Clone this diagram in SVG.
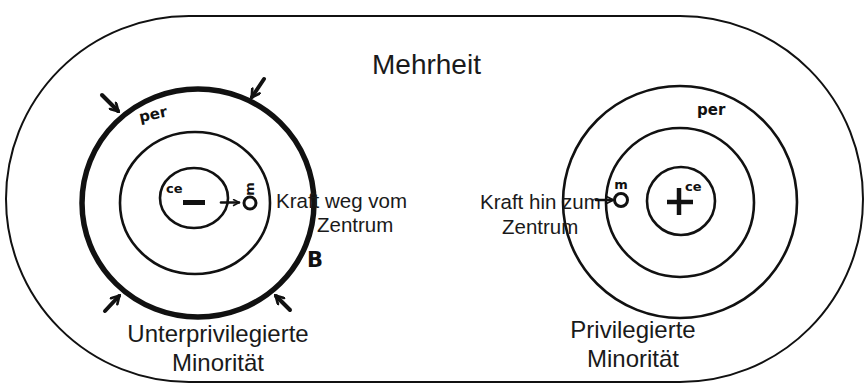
<svg xmlns="http://www.w3.org/2000/svg" width="865" height="385" viewBox="0 0 865 385">
<style>
.thin{fill:none;stroke:#111;stroke-width:2.6}
.outer{fill:none;stroke:#111;stroke-width:2}
.thick{fill:none;stroke:#111;stroke-width:5.5}
.lbl{font-family:"Liberation Sans",Arial,sans-serif;fill:#1a1a1a}
.hand{font-family:"DejaVu Sans",sans-serif;font-weight:bold;fill:#111}
.conn{fill:none;stroke:#111;stroke-width:2.6;stroke-linecap:round}
.inw{fill:none;stroke:#111;stroke-width:4;stroke-linecap:round}
</style>
<defs>
<marker id="v" viewBox="0 0 10 10" refX="8" refY="5" markerWidth="11" markerHeight="11" markerUnits="userSpaceOnUse" orient="auto">
<path d="M1.5,1 L8.5,5 L1.5,9" fill="none" stroke="#111" stroke-width="2.4" stroke-linecap="round"/>
</marker>
<marker id="vs" viewBox="0 0 10 10" refX="8.5" refY="5" markerWidth="8" markerHeight="8" markerUnits="userSpaceOnUse" orient="auto">
<path d="M1,1 L9,5 L1,9" fill="none" stroke="#111" stroke-width="2"/>
</marker>
<marker id="v2" viewBox="0 0 10 10" refX="8.5" refY="5" markerWidth="10" markerHeight="10" markerUnits="userSpaceOnUse" orient="auto">
<path d="M1,1 L9,5 L1,9" fill="none" stroke="#111" stroke-width="1.8"/>
</marker>
</defs>
<g id="mehrheit">
<rect class="outer" x="6" y="16" width="857" height="366" rx="183" ry="183"/>
<text class="lbl" x="372" y="74" font-size="28">Mehrheit</text>
</g>
<g id="unterprivilegierte-minoritaet">
<ellipse class="thick" cx="198" cy="203" rx="116" ry="114"/>
<ellipse class="thin" cx="195" cy="203" rx="75" ry="71"/>
<ellipse class="thin" cx="194" cy="198" rx="34" ry="30"/>
<line x1="183" y1="202.5" x2="205" y2="202.5" stroke="#111" stroke-width="5"/>
<circle cx="250" cy="203" r="6" fill="none" stroke="#111" stroke-width="3"/>
<text class="hand" x="139" y="120" font-size="15" transform="rotate(-12 150 115)">per</text>
<text class="hand" x="166" y="193" font-size="13">ce</text>
<text class="hand" x="249" y="189" font-size="13" text-anchor="middle" dominant-baseline="central" transform="rotate(-90 249 189)">m</text>
<text class="hand" x="307" y="267" font-size="21">B</text>
<text class="lbl" x="276" y="208" font-size="20.5">Kraft weg vom</text>
<text class="lbl" x="317" y="232" font-size="20.5">Zentrum</text>
<text class="lbl" x="218" y="342" font-size="24" text-anchor="middle">Unterprivilegierte</text>
<text class="lbl" x="218" y="371" font-size="24" text-anchor="middle">Minorität</text>
</g>
<g id="privilegierte-minoritaet">
<ellipse class="thin" cx="680" cy="202" rx="117" ry="116"/>
<ellipse class="thin" cx="680" cy="202.5" rx="74" ry="74.5"/>
<circle class="thin" cx="681" cy="201" r="34"/>
<line x1="667" y1="202" x2="693" y2="202" stroke="#111" stroke-width="4.5"/>
<line x1="679" y1="188" x2="679" y2="215" stroke="#111" stroke-width="4.5"/>
<circle cx="621" cy="200" r="6.5" fill="none" stroke="#111" stroke-width="3"/>
<text class="hand" x="697" y="115" font-size="15">per</text>
<text class="hand" x="621" y="189" font-size="13" text-anchor="middle">m</text>
<text class="hand" x="685" y="191" font-size="13">ce</text>
<text class="lbl" x="480" y="209" font-size="20.5">Kraft hin zum</text>
<text class="lbl" x="502" y="234" font-size="20.5">Zentrum</text>
<text class="lbl" x="633" y="338" font-size="24" text-anchor="middle">Privilegierte</text>
<text class="lbl" x="633" y="367" font-size="24" text-anchor="middle">Minorität</text>
</g>
<g id="connectors">
<line class="conn" x1="221" y1="202.5" x2="239" y2="202.5" marker-end="url(#vs)"/>
<line class="conn" x1="596" y1="200" x2="613" y2="200" marker-end="url(#v2)"/>
<line class="inw" x1="102" y1="95" x2="118" y2="111" marker-end="url(#v)"/>
<line class="inw" x1="264" y1="79" x2="252" y2="97" marker-end="url(#v)"/>
<line class="inw" x1="105" y1="311" x2="119" y2="296" marker-end="url(#v)"/>
<line class="inw" x1="290" y1="310" x2="276" y2="296" marker-end="url(#v)"/>
</g>
</svg>
